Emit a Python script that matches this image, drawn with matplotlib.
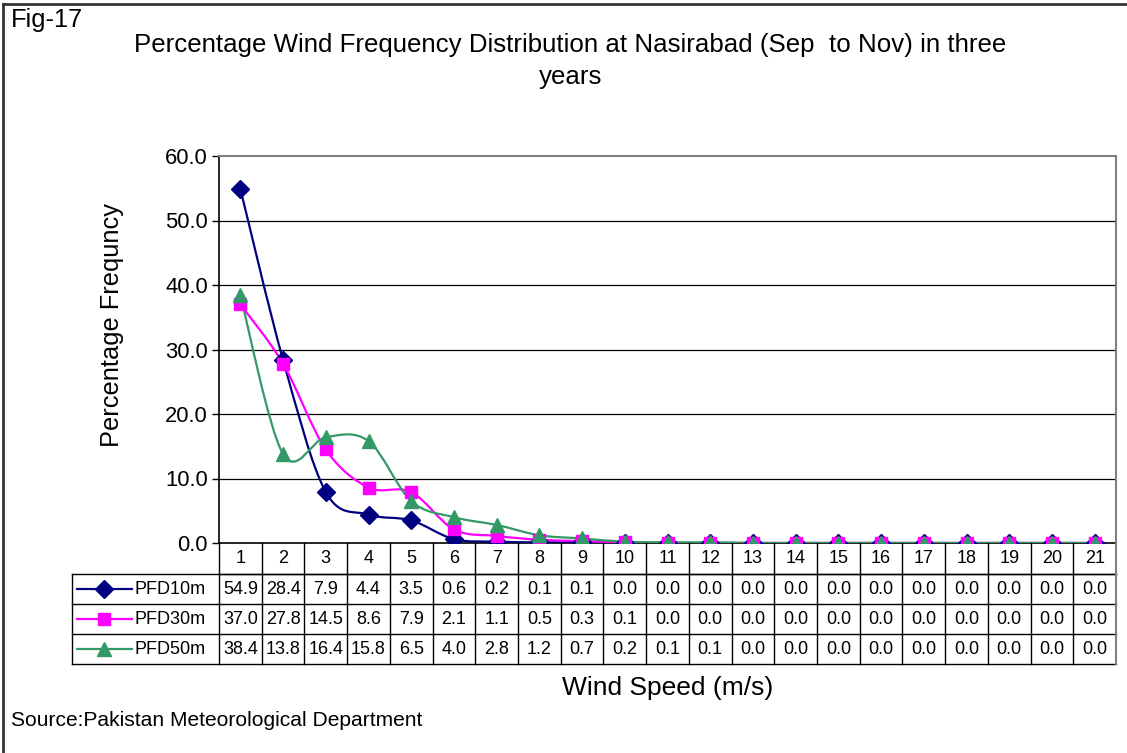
import matplotlib
matplotlib.use("Agg")
import matplotlib.pyplot as plt
import numpy as np
from matplotlib.path import Path
from matplotlib.patches import PathPatch
from matplotlib.lines import Line2D
import matplotlib.transforms as mtransforms

plt.rcParams['font.family'] = ['Liberation Sans', 'DejaVu Sans']

# ---------------- data ----------------
categories = [str(i) for i in range(1, 22)]
series_names = ["PFD10m", "PFD30m", "PFD50m"]
pfd10 = [54.9, 28.4, 7.9, 4.4, 3.5, 0.6, 0.2, 0.1, 0.1, 0.0, 0.0, 0.0, 0.0, 0.0, 0.0, 0.0, 0.0, 0.0, 0.0, 0.0, 0.0]
pfd30 = [37.0, 27.8, 14.5, 8.6, 7.9, 2.1, 1.1, 0.5, 0.3, 0.1, 0.0, 0.0, 0.0, 0.0, 0.0, 0.0, 0.0, 0.0, 0.0, 0.0, 0.0]
pfd50 = [38.4, 13.8, 16.4, 15.8, 6.5, 4.0, 2.8, 1.2, 0.7, 0.2, 0.1, 0.1, 0.0, 0.0, 0.0, 0.0, 0.0, 0.0, 0.0, 0.0, 0.0]
y_ticks = [0, 10, 20, 30, 40, 50, 60]

colors = ["#000080", "#FF00FF", "#339966"]
markers = ["D", "s", "^"]
msizes = [9.5, 9, 10]
all_series = [pfd10, pfd30, pfd50]

W, H = 1127, 753
fig = plt.figure(figsize=(W / 100, H / 100), dpi=100)

def fx(px):
    return px / W

def fy(py):
    return 1 - py / H

L, R, T, B = 219, 1116, 156, 543
ax = fig.add_axes([fx(L), fy(B), fx(R) - fx(L), fy(T) - fy(B)])
n = len(categories)
xs = np.arange(1, n + 1)
ax.set_xlim(0.5, n + 0.5)
ax.set_ylim(0, 60)

# grid
for v in y_ticks[1:-1]:
    ax.axhline(v, color="black", lw=0.9, zorder=1)
ax.set_yticks(y_ticks)
ax.set_yticklabels([f"{v:.1f}" for v in y_ticks], fontsize=15.8)
ax.tick_params(axis="y", length=5, width=1, direction="out", pad=3)
ax.set_xticks([])
for s in ["top", "right"]:
    ax.spines[s].set_color("#808080")
    ax.spines[s].set_linewidth(1.5)
for s in ["left", "bottom"]:
    ax.spines[s].set_color("black")
    ax.spines[s].set_linewidth(1.2)


def smooth_path(x, y):
    x = np.asarray(x, float)
    y = np.asarray(y, float)
    pts = np.column_stack([x, y])
    verts = [pts[0]]
    codes = [Path.MOVETO]
    for i in range(len(pts) - 1):
        p0 = pts[i - 1] if i > 0 else pts[i]
        p1 = pts[i]
        p2 = pts[i + 1]
        p3 = pts[i + 2] if i + 2 < len(pts) else pts[i + 1]
        c1 = p1 + (p2 - p0) / 6.0
        c2 = p2 - (p3 - p1) / 6.0
        verts += [c1, c2, p2]
        codes += [Path.CURVE4] * 3
    return Path(verts, codes)


for vals, c, m, ms in zip(all_series, colors, markers, msizes):
    patch = PathPatch(smooth_path(xs, vals), facecolor="none", edgecolor=c, lw=1.6, zorder=3)
    ax.add_patch(patch)
    ax.plot(xs, vals, linestyle="none", marker=m, ms=ms, color=c, mec=c, zorder=4)

# ---------------- data table ----------------
trans = mtransforms.blended_transform_factory(ax.transData, fig.transFigure)
row_y = [543, 574, 604, 634, 664]
tbl_left = 72
lc = "black"
lw = 1.0
fig.add_artist(Line2D([0.5, n + 0.5], [fy(row_y[1]), fy(row_y[1])], transform=trans, color=lc, lw=lw))
for yy in row_y[1:]:
    fig.add_artist(Line2D([fx(tbl_left), fx(R)], [fy(yy), fy(yy)], transform=fig.transFigure, color=lc, lw=lw))
for k in range(n + 1):
    xb = 0.5 + k
    col = "#808080" if k == n else lc
    fig.add_artist(Line2D([xb, xb], [fy(row_y[0]), fy(row_y[-1])], transform=trans, color=col, lw=lw if k < n else 1.5))
fig.add_artist(Line2D([fx(tbl_left), fx(tbl_left)], [fy(row_y[1]), fy(row_y[-1])], transform=fig.transFigure, color=lc, lw=lw))

for i, cat in enumerate(categories):
    fig.text(xs[i], fy((row_y[0] + row_y[1]) / 2), cat, transform=trans, ha="center", va="center", fontsize=13)

for r, (name, vals, c, m) in enumerate(zip(series_names, all_series, colors, markers)):
    yc = fy((row_y[r + 1] + row_y[r + 2]) / 2)
    for i, v in enumerate(vals):
        fig.text(xs[i], yc, f"{v:.1f}", transform=trans, ha="center", va="center", fontsize=13)
    fig.add_artist(Line2D([fx(77), fx(132)], [yc, yc], transform=fig.transFigure, color=c, lw=1.6))
    fig.add_artist(Line2D([fx(104)], [yc], transform=fig.transFigure, color=c, marker=m,
                          ms=msizes[r], mec=c, linestyle="none"))
    fig.text(fx(134), yc, name, ha="left", va="center", fontsize=13)

# ---------------- texts ----------------
fig.text(fx(570), fy(45), "Percentage Wind Frequency Distribution at Nasirabad (Sep  to Nov) in three",
         ha="center", va="center", fontsize=18.6)
fig.text(fx(571), fy(77), "years", ha="center", va="center", fontsize=18.6)
fig.text(fx(11), fy(20), "Fig-17", ha="left", va="center", fontsize=18.3)
fig.text(fx(112), fy(325), "Percentage Frequncy", rotation=90, ha="center", va="center", fontsize=18.3)
fig.text(fx(668), fy(688), "Wind Speed (m/s)", ha="center", va="center", fontsize=19)
fig.text(fx(11), fy(721), "Source:Pakistan Meteorological Department", ha="left", va="center", fontsize=15.1)

fig.add_artist(Line2D([fx(3), fx(3)], [0, fy(4)], transform=fig.transFigure, color="#333333", lw=2))
fig.add_artist(Line2D([fx(3), 1], [fy(4), fy(4)], transform=fig.transFigure, color="#333333", lw=2))

fig.savefig("out.png", dpi=100)
